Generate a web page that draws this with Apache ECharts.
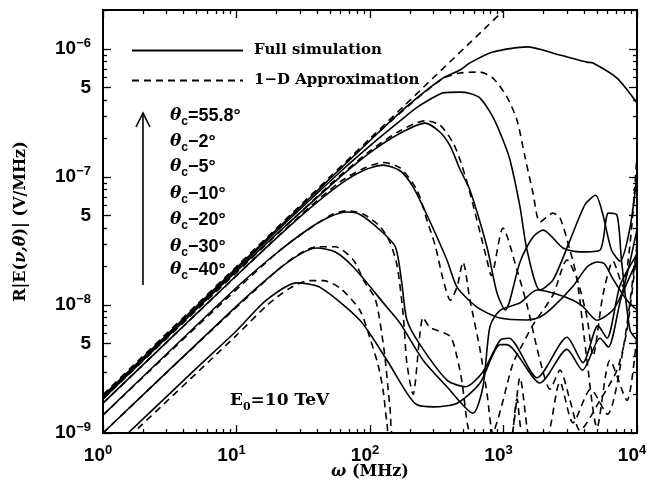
<!DOCTYPE html>
<html><head><meta charset="utf-8">
<script src="https://cdn.jsdelivr.net/npm/echarts@6/dist/echarts.min.js"></script>
<style>html,body{margin:0;padding:0;background:#fff}#c{width:647px;height:483px}</style>
</head><body><div id="c"></div>
<script>
// ---------- tick labels ----------
const xTickExponents = [0, 1, 2, 3, 4];
const yTickValues = [1e-9, 5e-9, 1e-8, 5e-8, 1e-7, 5e-7, 1e-6];
const yTickLabels = ['10^-9', '5', '10^-8', '5', '10^-7', '5', '10^-6'];
const xRange = [1, 1e4];
const yRange = [1e-9, 2.02e-6];

// ---------- full simulation (solid) ----------
const w55 = [1, 10, 100, 168, 237, 352, 472, 561, 834, 1500, 2650, 4220, 4680, 7080, 10000];
const e55 = [1.95e-9, 1.95e-8, 1.93e-7, 3.2e-7, 4.35e-7, 5.93e-7, 6.86e-7, 7.8e-7, 9.47e-7, 1.04e-6, 8.98e-7, 7.91e-7, 7.78e-7, 5.93e-7, 3.79e-7];
const w2 = [1, 10, 60, 119, 168, 225, 300, 352, 472, 561, 667, 834, 991, 1119, 1330, 1500, 1877, 2348, 3148, 4080, 4900, 5560, 6440, 7455, 8858, 10000];
const e2 = [1.9e-9, 1.9e-8, 1.1e-7, 2.05e-7, 2.75e-7, 3.5e-7, 4.2e-7, 4.55e-7, 4.61e-7, 4.5e-7, 4.14e-7, 2.94e-7, 1.95e-7, 1.36e-7, 5.83e-8, 2.69e-8, 1.31e-8, 1.57e-8, 3.2e-8, 6.1e-8, 7.2e-8, 5.05e-8, 2.69e-8, 2.2e-8, 4e-8, 1.04e-7];
const w5 = [1, 10, 50, 100, 168, 258, 334, 398, 472, 561, 752, 894, 1030, 1330, 1664, 1977, 2790, 3740, 5280, 6100, 7080, 7650, 8858, 10000];
const e5 = [1.85e-9, 1.84e-8, 8.5e-8, 1.55e-7, 2.2e-7, 2.64e-7, 2.25e-7, 1.75e-7, 1.15e-7, 7.9e-8, 2.84e-8, 1.24e-8, 9.14e-9, 2.17e-8, 3.4e-8, 3.85e-8, 2.79e-8, 2.6e-8, 2.69e-8, 5.23e-8, 5.05e-8, 2.25e-8, 6.38e-9, 5.33e-9];
const w10 = [1, 10, 30, 60, 90, 125, 168, 210, 267, 377, 449, 633, 942, 1500, 1877, 2348, 3315, 4220, 5015, 5700, 6600, 8412, 10000];
const e10 = [1.71e-9, 1.7e-8, 4.9e-8, 8.8e-8, 1.13e-7, 1.24e-7, 1.12e-7, 8.4e-8, 5.05e-8, 2.25e-8, 1.38e-8, 9.64e-9, 7.91e-9, 7.64e-9, 8.06e-9, 9.64e-9, 1.4e-8, 1.98e-8, 2.17e-8, 2.1e-8, 1.6e-8, 1.09e-8, 9.14e-9];
const w20 = [1, 10, 20, 35.5, 50, 67, 84, 119, 155, 173, 189, 237, 377, 520, 700, 942, 1100, 1783, 2990, 3938, 5100, 5958, 7455, 10000];
const e20 = [1.38e-9, 1.37e-8, 2.55e-8, 4.0e-8, 4.9e-8, 5.33e-8, 5.1e-8, 3.85e-8, 2.84e-8, 1.49e-8, 7.64e-9, 4.9e-9, 2.59e-9, 2.3e-9, 3.0e-9, 5.3e-9, 5.5e-9, 2.7e-9, 5.6e-9, 3.55e-9, 6.9e-9, 5.5e-9, 1.42e-8, 2.5e-8];
const w30 = [1, 10, 20, 30, 40, 55, 75, 134, 168, 250, 377, 591, 702, 792, 942, 1330, 1783, 2348, 3315, 3938, 5015, 6606, 7850, 10000];
const e30 = [1e-9, 9.8e-9, 1.85e-8, 2.5e-8, 2.79e-8, 2.6e-8, 1.98e-8, 9.6e-9, 7.2e-9, 3.7e-9, 2.3e-9, 1.43e-9, 2.3e-9, 6.8e-9, 9.1e-9, 1.04e-8, 1.31e-8, 1.24e-8, 1.09e-8, 9.7e-9, 7.6e-9, 9.14e-9, 1.31e-8, 3.9e-8];
const w40 = [1, 5, 10, 16.9, 28.4, 42, 84, 134, 189, 225, 297, 449, 667, 942, 1060, 1877, 2990, 3900, 5280, 6100, 7650, 10000];
const e40 = [6.5e-10, 3.2e-9, 6.3e-9, 1.1e-8, 1.49e-8, 1.38e-8, 7.6e-9, 3.7e-9, 2.05e-9, 1.66e-9, 1.6e-9, 1.71e-9, 2.46e-9, 4.9e-9, 4.9e-9, 2.46e-9, 4.5e-9, 3.1e-9, 5.5e-9, 4.7e-9, 1.16e-8, 2.2e-8];

// ---------- 1-D approximation (dashed) ----------
const wD55 = [1, 10, 100, 1000, 1200];
const eD55 = [2.0e-9, 2.0e-8, 2.0e-7, 2.0e-6, 2.4e-6];
const wD2 = [1, 100, 200, 352, 472, 667, 834, 1062, 1262, 1450, 1664, 1877, 2348, 2650, 3148, 3552, 4220, 5015, 6274, 8412, 10000];
const eD2 = [1.95e-9, 1.94e-7, 3.7e-7, 5.9e-7, 6.5e-7, 6.61e-7, 5.93e-7, 4.22e-7, 2.78e-7, 1.43e-7, 7.5e-8, 4.45e-8, 5.23e-8, 4.79e-8, 2.69e-8, 1.6e-8, 3.7e-9, 1.1e-9, 3.7e-9, 1.8e-9, 6e-9];
const wD5 = [1, 50, 100, 168, 258, 334, 419, 480, 561, 752, 810, 991, 1262, 1500, 1877, 2230, 2650, 3148, 3740, 5280, 7080, 8412, 10000];
const eD5 = [1.85e-9, 8.7e-8, 1.6e-7, 2.3e-7, 2.75e-7, 2.55e-7, 1.85e-7, 1.3e-7, 7.5e-8, 2.25e-8, 1.7e-8, 4.0e-8, 1.88e-8, 1.0e-8, 3.7e-9, 2.2e-9, 3.1e-9, 1.8e-9, 1.05e-9, 1.8e-9, 3.1e-9, 6.4e-9, 2.7e-8];
const wD10 = [1, 30, 60, 90, 125, 168, 225, 270, 310, 352, 400, 450, 497, 561, 667, 752, 850, 1100, 1262, 1400, 2000, 2650, 3315, 4500, 6000, 8000, 10000];
const eD10 = [1.71e-9, 5e-8, 9.2e-8, 1.17e-7, 1.3e-7, 1.18e-7, 7.9e-8, 4.45e-8, 2.84e-8, 1.6e-8, 1.09e-8, 1.4e-8, 2.17e-8, 1.09e-8, 4.5e-9, 2.05e-9, 9e-10, 8e-10, 1.85e-9, 9.5e-10, 8e-10, 2.5e-9, 1.2e-9, 2.2e-9, 1.4e-9, 5e-9, 3e-8];
const wD20 = [1, 20, 50, 67, 90, 119, 141, 160, 177, 189, 210, 250, 281, 398, 449, 490, 535, 600];
const eD20 = [1.38e-9, 2.55e-8, 5e-8, 5.45e-8, 5.1e-8, 4.1e-8, 3.1e-8, 2.0e-8, 8.5e-9, 3.5e-9, 2.0e-9, 8e-9, 6.7e-9, 5.7e-9, 3.9e-9, 2.46e-9, 1.2e-9, 7e-10];
const wD30 = [1, 20, 40, 55, 75, 90, 110, 128, 141, 155, 400, 800, 1178, 1400, 1664, 2348, 2990, 3552, 4220, 4680, 5560, 6606, 7850, 9000, 10000];
const eD30 = [1e-9, 1.85e-8, 2.85e-8, 2.85e-8, 2.25e-8, 1.55e-8, 1.1e-8, 4.3e-9, 1.6e-9, 8e-10, 4e-10, 9e-10, 3.5e-9, 5e-9, 7e-9, 1.2e-8, 2.25e-8, 1.6e-8, 8e-9, 4e-9, 1.2e-8, 2.2e-8, 1.4e-8, 3.5e-8, 1.5e-7];
const wD40 = [1, 10, 17, 25, 35, 45, 60, 84, 100, 115, 125, 134, 145, 600, 1100, 1330, 1500, 1700];
const eD40 = [6e-10, 5.8e-9, 1.0e-8, 1.35e-8, 1.55e-8, 1.55e-8, 1.35e-8, 9.1e-9, 5.5e-9, 3.4e-9, 2.2e-9, 1.2e-9, 8e-10, 4e-10, 8e-10, 2.7e-9, 1.1e-9, 5e-10];

const angleLabels = ['=55.8°', '−2°', '−5°', '−10°', '−20°', '−30°', '−40°'];

// ---------- build ----------
const L = Math.log10;
const pairs = (w, e) => w.map((x, i) => [L(x), L(e[i])]);
const solidSets = [[w55, e55], [w2, e2], [w5, e5], [w10, e10], [w20, e20], [w30, e30], [w40, e40]];
const dashSets = [[wD55, eD55], [wD2, eD2], [wD5, eD5], [wD10, eD10], [wD20, eD20], [wD30, eD30], [wD40, eD40]];

const xLo = L(xRange[0]), xHi = L(xRange[1]);
const yLo = L(yRange[0]), yHi = L(yRange[1]);
const xMajor = xTickExponents.slice();
const xMinor = [];
for (let n = xLo; n < xHi; n++) for (let k = 2; k <= 9; k++) xMinor.push(n + L(k));
const yMajor = yTickValues.map(L);
const yMinor = [];
for (let n = -9; n <= -6; n++) for (let k = 2; k <= 9; k++) { if (k === 5) continue; const v = n + L(k); if (v < yHi) yMinor.push(v); }

const NUM = 'Liberation Sans';
const SER = 'DejaVu Serif';
const richNum = {
  b: { fontFamily: NUM, fontWeight: 'bold', fontSize: 19, color: '#000', lineHeight: 24, verticalAlign: 'middle' },
  s: { fontFamily: NUM, fontWeight: 'bold', fontSize: 13, color: '#000', lineHeight: 13, verticalAlign: 'top' }
};
function axisStyle(len, vals) {
  return {
    axisLine: { show: true, onZero: false, lineStyle: { color: '#000', width: 2 } },
    axisTick: { show: true, inside: true, length: len, customValues: vals, lineStyle: { color: '#000', width: 1.3 } },
    splitLine: { show: false }
  };
}
function xAx(pos, len, vals, labels) {
  const a = Object.assign({ type: 'value', min: xLo, max: xHi, position: pos }, axisStyle(len, vals));
  if (labels) {
    a.axisLabel = { show: true, customValues: xMajor, margin: 11, padding: [0, 10, 0, 0],
      formatter: v => '{b|10}{s|' + Math.round(v) + '}', rich: richNum };
    a.name = '{i|ω} (MHz)'; a.nameLocation = 'middle'; a.nameGap = 31; a.nameMoveOverlap = false;
    a.nameTextStyle = { fontFamily: SER, fontWeight: 'bold', fontSize: 16, color: '#000',
      rich: { i: { fontFamily: SER, fontStyle: 'italic', fontWeight: 'bold', fontSize: 16, color: '#000' } } };
  } else a.axisLabel = { show: false };
  return a;
}
function yAx(pos, len, vals, labels) {
  const a = Object.assign({ type: 'value', min: yLo, max: yHi, position: pos }, axisStyle(len, vals));
  if (labels) {
    a.axisLabel = { show: true, customValues: yMajor, margin: 12,
      formatter: v => {
        const i = yMajor.findIndex(t => Math.abs(t - v) < 1e-6);
        if (i < 0) return '';
        const lab = yTickLabels[i];
        if (lab.indexOf('10^') === 0) return '{b|10}{s|' + lab.slice(3).replace('-', '−') + '}';
        return '{b|' + lab + '}';
      }, rich: richNum };
    a.name = 'R|E({i|ν,θ})| (V/MHz)'; a.nameLocation = 'middle'; a.nameGap = 74; a.nameRotate = 90; a.nameMoveOverlap = false;
    a.nameTextStyle = { fontFamily: SER, fontWeight: 'bold', fontSize: 16, color: '#000',
      rich: { i: { fontFamily: SER, fontStyle: 'italic', fontWeight: 'bold', fontSize: 16, color: '#000' } } };
  } else a.axisLabel = { show: false };
  return a;
}

const series = [];
solidSets.forEach(s => series.push({ name: 'Full simulation', type: 'line', data: pairs(s[0], s[1]),
  symbol: 'none', smooth: 0.25, clip: true, silent: true,
  itemStyle: { color: '#000', opacity: 0 },
  lineStyle: { color: '#000', width: 1.6, type: 'solid' } }));
dashSets.forEach(s => series.push({ name: '1−D Approximation', type: 'line', data: pairs(s[0], s[1]),
  symbol: 'none', smooth: 0.25, clip: true, silent: true,
  itemStyle: { color: '#000', opacity: 0 },
  lineStyle: { color: '#000', width: 1.6, type: [7, 5] } }));

const thetaRich = {
  t: { fontFamily: SER, fontStyle: 'italic', fontWeight: 'bold', fontSize: 17, fill: '#000', lineHeight: 24, verticalAlign: 'middle' },
  c: { fontFamily: NUM, fontWeight: 'bold', fontSize: 12, fill: '#000', lineHeight: 12, verticalAlign: 'bottom' },
  n: { fontFamily: NUM, fontWeight: 'bold', fontSize: 18, fill: '#000', lineHeight: 24, verticalAlign: 'middle' }
};
const thetaY = [116, 142, 167, 194, 220, 247, 270];
const graphics = [
  { type: 'line', shape: { x1: 143, y1: 285, x2: 143, y2: 114 }, style: { stroke: '#000', lineWidth: 1.6 } },
  { type: 'polyline', shape: { points: [[136, 127], [143, 113], [150, 127]] }, style: { stroke: '#000', lineWidth: 1.6, fill: null } },
  { type: 'text', x: 230, y: 401, style: { text: '{n|E}{c|0}{n|=10 TeV}', verticalAlign: 'middle', align: 'left',
      rich: { n: { fontFamily: SER, fontWeight: 'bold', fontSize: 17, fill: '#000', lineHeight: 24, verticalAlign: 'middle' },
              c: { fontFamily: SER, fontWeight: 'bold', fontSize: 11, fill: '#000', lineHeight: 11, verticalAlign: 'bottom' } } } }
];
angleLabels.forEach((a, i) => graphics.push({ type: 'text', x: 170, y: thetaY[i],
  style: { text: '{t|θ}{c|c}{n|' + a + '}', verticalAlign: 'middle', align: 'left', rich: thetaRich } }));

const chart = echarts.init(document.getElementById('c'), null, { renderer: 'canvas' });
chart.setOption({
  animation: false,
  backgroundColor: '#fff',
  grid: { left: 103, right: 10, top: 10, bottom: 50, containLabel: false, outerBoundsMode: 'none' },
  xAxis: [xAx('bottom', 8, xMajor, true), xAx('bottom', 4, xMinor, false), xAx('top', 8, xMajor, false), xAx('top', 4, xMinor, false)],
  yAxis: [yAx('left', 8, yMajor, true), yAx('left', 4, yMinor, false), yAx('right', 8, yMajor, false), yAx('right', 4, yMinor, false)],
  legend: { data: ['Full simulation', '1−D Approximation'], orient: 'vertical', left: 126, top: 38,
    itemWidth: 111, itemHeight: 14, itemGap: 15, selectedMode: false,
    itemStyle: { opacity: 0, borderWidth: 0 },
    textStyle: { fontFamily: SER, fontWeight: 'bold', fontSize: 15, color: '#000', padding: [0, 0, 0, 6] } },
  series: series,
  graphic: graphics
});
</script></body></html>
